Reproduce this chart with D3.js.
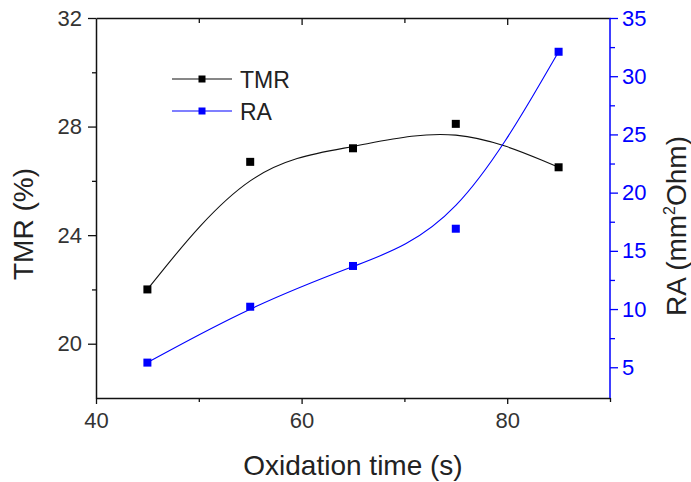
<!DOCTYPE html>
<html><head><meta charset="utf-8">
<script src="https://cdn.jsdelivr.net/npm/d3@7"></script>
<style>
body{margin:0;background:#fff;}
svg text{font-family:"Liberation Sans",Arial,sans-serif;}
</style>
</head><body>
<svg id="c" width="691" height="482"></svg>
<script>
// ---- data ----
const times = [45, 55, 65, 75, 85];
const tmrValues = [22.0, 26.7, 27.2, 28.1, 26.5];
const raValues = [5.4, 10.2, 13.7, 16.9, 32.1];
const seriesNames = ["TMR", "RA"];
const xDomain = [40, 90];
const tmrDomain = [18, 32];
const raDomain = [2.36, 35];
const xMajor = [40, 60, 80];
const xMinor = [50, 70, 90];
const tmrMajor = [20, 24, 28, 32];
const tmrMinor = [22, 26, 30];
const raMajor = [5, 10, 15, 20, 25, 30, 35];
const raMinor = [7.5, 12.5, 17.5, 22.5, 27.5, 32.5];

// ---- layout ----
const L = 96, R = 610, T = 18, B = 398;
const black = "#111", blue = "#0000ff", labelCol = "#333";
const svg = d3.select("#c");

const x = d3.scaleLinear().domain(xDomain).range([L, R]);
const yL = d3.scaleLinear().domain(tmrDomain).range([B, T]);
const yR = d3.scaleLinear().domain(raDomain).range([B, T]);

const tmrData = times.map((t, i) => ({x: t, y: tmrValues[i]}));
const raData = times.map((t, i) => ({x: t, y: raValues[i]}));

// ---- curves ----
const lineL = d3.line().x(d => x(d.x)).y(d => yL(d.y)).curve(d3.curveBasis);
const lineR = d3.line().x(d => x(d.x)).y(d => yR(d.y)).curve(d3.curveBasis);
svg.append("path").attr("d", lineL(tmrData)).attr("fill", "none").attr("stroke", black).attr("stroke-width", 1.1);
svg.append("path").attr("d", lineR(raData)).attr("fill", "none").attr("stroke", blue).attr("stroke-width", 1.1);

const ms = 8;
svg.selectAll(".mt").data(tmrData).enter().append("rect")
  .attr("x", d => x(d.x) - ms/2).attr("y", d => yL(d.y) - ms/2)
  .attr("width", ms).attr("height", ms).attr("fill", "#000");
svg.selectAll(".mr").data(raData).enter().append("rect")
  .attr("x", d => x(d.x) - ms/2).attr("y", d => yR(d.y) - ms/2)
  .attr("width", ms).attr("height", ms).attr("fill", blue);

// ---- axes ----
function styleAxis(g, col, fontSize) {
  g.selectAll("path").attr("stroke", col).attr("stroke-width", 1.5);
  g.selectAll("line").attr("stroke", col).attr("stroke-width", 1.3);
  g.selectAll("text").attr("fill", col === blue ? blue : labelCol)
    .style("font-size", fontSize + "px");
}
// bottom
const gxMin = svg.append("g").attr("transform", `translate(0,${B})`)
  .call(d3.axisBottom(x).tickValues(xMinor).tickSize(4).tickFormat(""));
styleAxis(gxMin, black, 22); gxMin.select("path").remove();
const gx = svg.append("g").attr("transform", `translate(0,${B})`)
  .call(d3.axisBottom(x).tickValues(xMajor).tickSizeInner(6).tickSizeOuter(0).tickPadding(8));
styleAxis(gx, black, 22);
// top (inward ticks)
const gtMin = svg.append("g").attr("transform", `translate(0,${T})`)
  .call(d3.axisBottom(x).tickValues(xMinor.filter(v => v < 90)).tickSize(5).tickFormat(""));
styleAxis(gtMin, black, 22); gtMin.select("path").remove();
const gt = svg.append("g").attr("transform", `translate(0,${T})`)
  .call(d3.axisBottom(x).tickValues(xMajor.filter(v => v > 40)).tickSizeInner(7).tickSizeOuter(0).tickFormat(""));
styleAxis(gt, black, 22);
// left
const gyMin = svg.append("g").attr("transform", `translate(${L},0)`)
  .call(d3.axisLeft(yL).tickValues(tmrMinor).tickSize(4).tickFormat(""));
styleAxis(gyMin, black, 22); gyMin.select("path").remove();
const gy = svg.append("g").attr("transform", `translate(${L},0)`)
  .call(d3.axisLeft(yL).tickValues(tmrMajor).tickSizeInner(8).tickSizeOuter(0).tickPadding(6));
styleAxis(gy, black, 22);
// right
const grMin = svg.append("g").attr("transform", `translate(${R},0)`)
  .call(d3.axisRight(yR).tickValues(raMinor).tickSize(5).tickFormat(""));
styleAxis(grMin, blue, 22); grMin.select("path").remove();
const gr = svg.append("g").attr("transform", `translate(${R},0)`)
  .call(d3.axisRight(yR).tickValues(raMajor).tickSizeInner(8).tickSizeOuter(0).tickPadding(4));
styleAxis(gr, blue, 22);
gr.select("path").attr("d", `M0,${B}V${T}`);

// ---- titles ----
svg.append("text").attr("x", (L + R) / 2).attr("y", 475).attr("text-anchor", "middle")
  .attr("fill", "#222").style("font-size", "28px").text("Oxidation time (s)");
svg.append("text").attr("transform", "translate(33,224) rotate(-90)").attr("text-anchor", "middle")
  .attr("fill", "#222").style("font-size", "28px").text("TMR (%)");
const raT = svg.append("text").attr("transform", "translate(686,226) rotate(-90)").attr("text-anchor", "middle")
  .attr("fill", "#222").style("font-size", "28px");
raT.append("tspan").text("RA (mm");
raT.append("tspan").attr("dy", -11).style("font-size", "16px").text("2");
raT.append("tspan").attr("dy", 11).text("Ohm)");

// ---- legend ----
const legCols = [black, blue];
const legY = [79, 111];
seriesNames.forEach((name, i) => {
  const g = svg.append("g");
  g.append("line").attr("x1", 172).attr("x2", 232).attr("y1", legY[i]).attr("y2", legY[i])
    .attr("stroke", legCols[i]).attr("stroke-width", 1.1);
  g.append("rect").attr("x", 202 - 3.5).attr("y", legY[i] - 3.5).attr("width", 7).attr("height", 7)
    .attr("fill", i === 0 ? "#000" : blue);
  g.append("text").attr("x", 240).attr("y", legY[i] + 8.5).attr("fill", "#222")
    .style("font-size", "23px").text(name);
});
</script>
</body></html>
